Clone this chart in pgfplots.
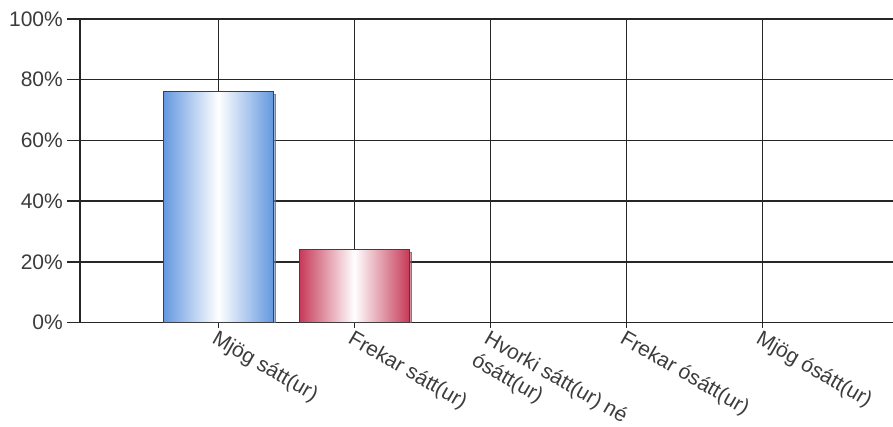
\documentclass[border=0pt]{standalone}
\usepackage{pgfplots}
\pgfplotsset{compat=1.18}
\usepackage{fontspec}
\setmainfont{Liberation Sans}
\usetikzlibrary{shadows}
\definecolor{barblue}{RGB}{100,152,224}
\definecolor{barred}{RGB}{198,58,88}
\definecolor{txt}{RGB}{60,60,60}
\pgfplotsset{
  common/.style={
    at={(80pt,104.3pt)}, anchor=south west,
    scale only axis, width=813pt, height=303.7pt,
    xmin=-1.017, xmax=4.961, ymin=0, ymax=100,
  }
}
\begin{document}
\begin{tikzpicture}
\useasboundingbox (0,0) rectangle (893pt,427pt);
% y ticks and labels (longer ticks)
\begin{axis}[
  common,
  axis x line=none, axis y line=left,
  axis line style={-, line width=1.5pt, black!85},
  xtick=\empty,
  ytick={0,20,40,60,80,100},
  yticklabels={0\%,20\%,40\%,60\%,80\%,100\%},
  tick align=outside, major tick length=13pt,
  tick style={line width=1.5pt, black!85},
  y tick label style={font=\fontsize{21}{24}\selectfont, text=txt, inner sep=4pt},
]
\end{axis}
\begin{axis}[
  common,
  axis x line=bottom, axis y line=left,
  axis line style={-, line width=1.5pt, black!85},
  xtick={0,1,2,3,4},
  xticklabels={Mjög sátt(ur),Frekar sátt(ur),{Hvorki sátt(ur) né\\ósátt(ur)},Frekar ósátt(ur),Mjög ósátt(ur)},
  ytick={0,20,40,60,80,100},
  yticklabels={},
  tick align=outside, major tick length=5pt,
  tick style={line width=1.5pt, black!85},
  grid=major,
  major grid style={line width=1.5pt, black!85},
  x tick label style={font=\fontsize{21}{25}\selectfont, text=txt, rotate=-30, anchor=north west, align=left, inner sep=1pt},
  ybar, bar width=110pt,
]
\addplot[bar shift=0pt, draw=black!75, line width=0.8pt, left color=barblue, right color=barblue, middle color=white,
  drop shadow={shadow xshift=2.5pt, shadow yshift=-2.5pt, opacity=0.4}]
  coordinates {(0,76)};
\addplot[bar shift=0pt, draw=black!75, line width=0.8pt, left color=barred, right color=barred, middle color=white,
  drop shadow={shadow xshift=2.5pt, shadow yshift=-2.5pt, opacity=0.4}]
  coordinates {(1,24)};
\end{axis}
\end{tikzpicture}
\end{document}
